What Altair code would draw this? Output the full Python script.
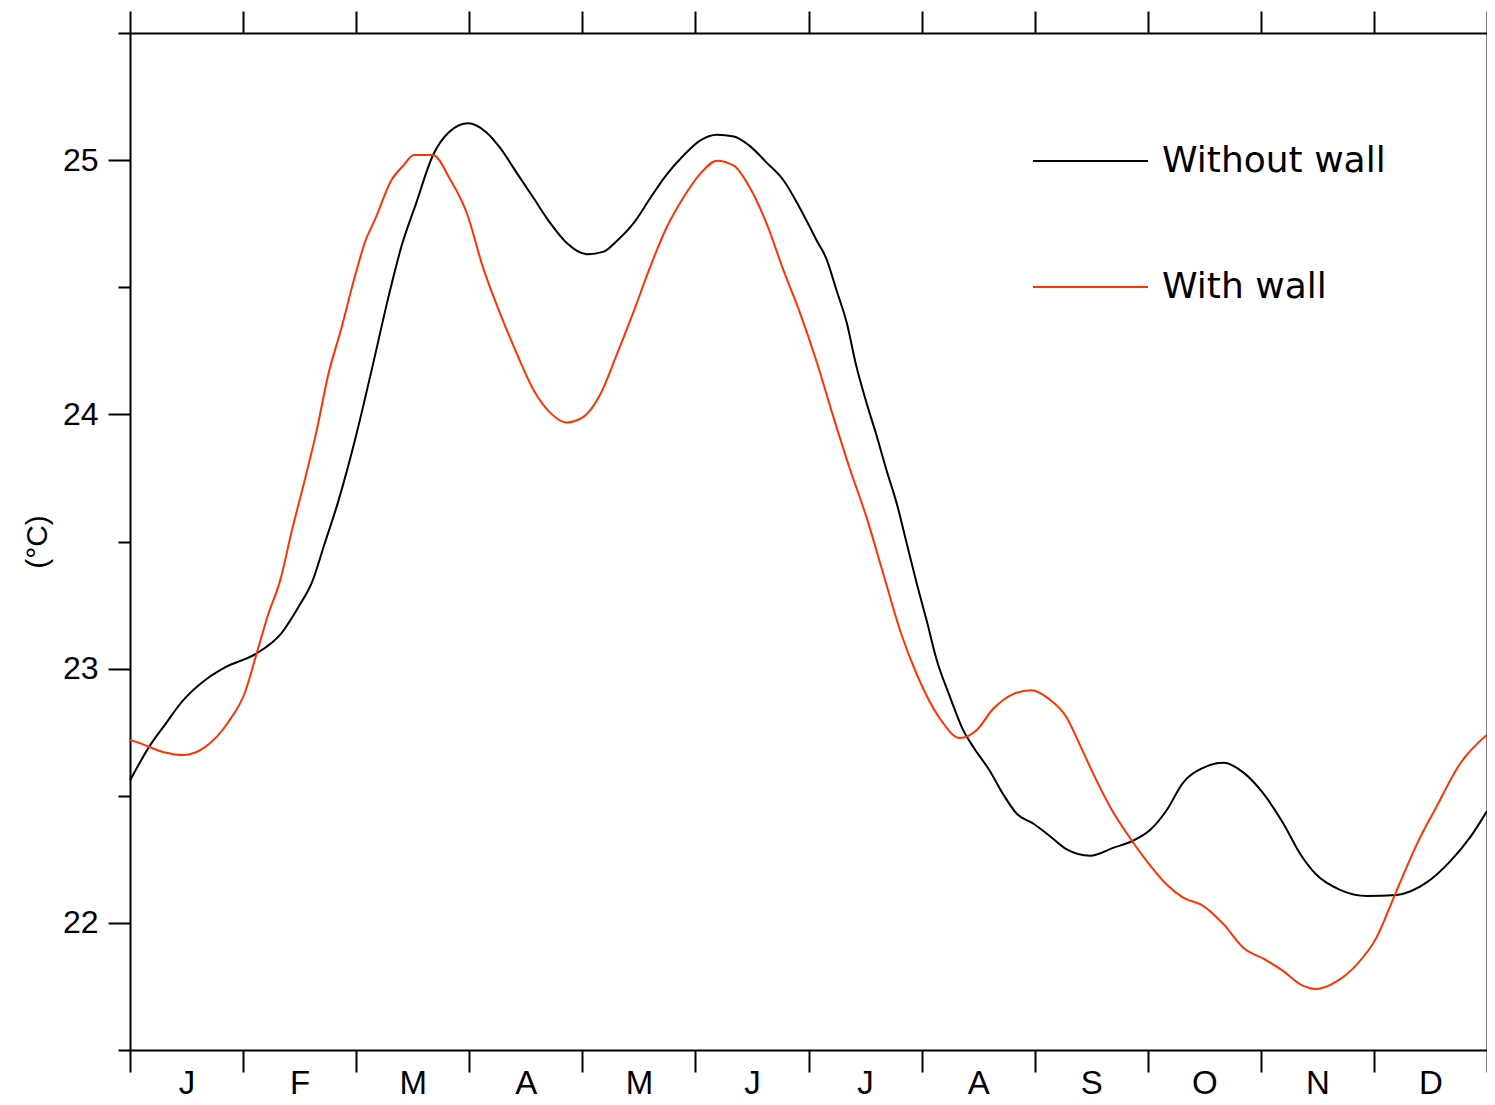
import altair as alt
import pandas as pd

# x is in months (0 = start of January, 12 = end of December)
months_without = [0.00, 0.18, 0.31, 0.46, 0.68, 0.84, 1.12, 1.34, 1.50, 1.61, 1.72, 1.84, 1.99,
                  2.14, 2.29, 2.40, 2.53, 2.68, 2.82, 2.99, 3.15, 3.27, 3.42, 3.57, 3.72, 3.86,
                  4.04, 4.19, 4.30, 4.45, 4.60, 4.74, 4.89, 5.04, 5.19, 5.34, 5.48, 5.63, 5.78,
                  5.92, 6.07, 6.16, 6.25, 6.34, 6.42, 6.51, 6.60, 6.69, 6.78, 6.87, 6.96, 7.05,
                  7.13, 7.25, 7.37, 7.46, 7.60, 7.72, 7.84, 7.99, 8.13, 8.28, 8.49, 8.70, 8.87,
                  9.02, 9.17, 9.31, 9.49, 9.67, 9.85, 10.02, 10.20, 10.35, 10.49, 10.70, 10.94,
                  11.20, 11.47, 11.67, 11.85, 12.00]
temp_without = [22.56, 22.70, 22.78, 22.87, 22.96, 23.005, 23.06, 23.14, 23.25, 23.34, 23.49, 23.655, 23.90,
                24.18, 24.47, 24.66, 24.83, 25.02, 25.11, 25.145, 25.11, 25.05, 24.95, 24.85, 24.75, 24.675,
                24.63, 24.64, 24.68, 24.75, 24.85, 24.94, 25.016, 25.077, 25.10, 25.093, 25.056, 24.99, 24.92,
                24.815, 24.686, 24.61, 24.485, 24.357, 24.195, 24.05, 23.92, 23.78, 23.65, 23.49, 23.33, 23.18,
                23.04, 22.89, 22.756, 22.69, 22.60, 22.507, 22.43, 22.39, 22.343, 22.29, 22.264, 22.296, 22.323,
                22.365, 22.445, 22.55, 22.61, 22.63, 22.59, 22.51, 22.39, 22.27, 22.19, 22.13, 22.106,
                22.11, 22.16, 22.24, 22.336, 22.44]

months_with = [0.00, 0.07, 0.31, 0.47, 0.66, 0.87, 1.02, 1.12, 1.22, 1.33, 1.43, 1.55, 1.65, 1.75,
               1.87, 1.99, 2.08, 2.17, 2.31, 2.42, 2.51, 2.68, 2.83, 2.98, 3.12, 3.27, 3.42, 3.57,
               3.72, 3.86, 4.01, 4.16, 4.30, 4.45, 4.60, 4.74, 4.89, 5.04, 5.19, 5.34, 5.48, 5.63,
               5.78, 5.92, 6.07, 6.22, 6.37, 6.51, 6.66, 6.81, 6.96, 7.16, 7.34, 7.49, 7.63, 7.81,
               7.97, 8.13, 8.28, 8.40, 8.52, 8.67, 8.84, 8.99, 9.17, 9.31, 9.49, 9.67, 9.85, 10.02,
               10.20, 10.35, 10.49, 10.67, 10.85, 11.02, 11.20, 11.38, 11.55, 11.76, 12.00]
temp_with = [22.72, 22.71, 22.67, 22.66, 22.69, 22.79, 22.91, 23.06, 23.21, 23.35, 23.54, 23.75, 23.935, 24.15,
             24.34, 24.545, 24.68, 24.77, 24.92, 24.98, 25.02, 25.02, 24.925, 24.79, 24.58, 24.40, 24.24, 24.095,
             24.005, 23.968, 23.99, 24.08, 24.23, 24.40, 24.58, 24.73, 24.85, 24.945, 24.998, 24.978, 24.893, 24.75,
             24.565, 24.405, 24.21, 23.99, 23.78, 23.60, 23.375, 23.15, 22.975, 22.805, 22.727, 22.76, 22.84, 22.90,
             22.915, 22.88, 22.81, 22.70, 22.585, 22.454, 22.336, 22.244, 22.15, 22.10, 22.067, 21.995, 21.90, 21.86,
             21.81, 21.758, 21.74, 21.77, 21.837, 21.94, 22.126, 22.31, 22.454, 22.625, 22.74]

series_names = ["Without wall", "With wall"]
series_colors = ["#000000", "#ff3300"]

month_letters = ["J", "F", "M", "A", "M", "J", "J", "A", "S", "O", "N", "D"]
month_edges = list(range(0, 13))
month_mids = [m + 0.5 for m in range(12)]

y_all = [21.5, 22, 22.5, 23, 23.5, 24, 24.5, 25, 25.5]

df = pd.concat([
    pd.DataFrame({"month": months_without, "temp": temp_without, "series": series_names[0]}),
    pd.DataFrame({"month": months_with, "temp": temp_with, "series": series_names[1]}),
])

letters_js = "[" + ",".join("'" + s + "'" for s in month_letters) + "]"
x_vals = sorted(month_edges + month_mids)

x_scale = alt.Scale(domain=[0, 12], nice=False, zero=False)
y_scale = alt.Scale(domain=[21.5, 25.5], nice=False, zero=False)

bottom_axis = alt.Axis(
    orient="bottom", values=x_vals, title=None, grid=False,
    labelExpr=f"datum.value % 1 ? {letters_js}[floor(datum.value)] : ''",
    labelFont="Liberation Sans", labelFontSize=33, labelColor="#000000",
    labelPadding=-5, labelBound=False, labelOverlap=False, labelFlush=False,
    tickSize=22, tickWidth=2, tickColor="#000000",
    tickOpacity={"condition": {"test": "datum.value % 1 !== 0", "value": 0}, "value": 1},
    domainColor="#000000", domainWidth=2,
)
top_axis = alt.Axis(
    orient="top", values=month_edges, title=None, grid=False, labels=False,
    tickSize=22, tickWidth=2, tickColor="#000000",
    domainColor="#000000", domainWidth=2,
)
left_axis = alt.Axis(
    orient="left", values=y_all, title="(°C)", grid=False,
    labelExpr="datum.value % 1 ? '' : toString(datum.value)",
    labelFont="Liberation Sans", labelFontSize=32, labelColor="#000000",
    labelPadding=10, labelOverlap=False, labelFlush=False,
    tickSize={"condition": {"test": "datum.value % 1 === 0", "value": 22}, "value": 12},
    tickWidth=2, tickColor="#000000",
    domainColor="#000000", domainWidth=2,
    titleFont="Liberation Sans", titleFontSize=30, titleFontWeight="normal",
    titleColor="#000000", titlePadding=10,
)
right_axis = alt.Axis(
    orient="right", values=y_all, title=None, grid=False, labels=False,
    tickSize={"condition": {"test": "datum.value % 1 === 0", "value": 22}, "value": 12},
    tickWidth=2, tickColor="#000000",
    domainColor="#000000", domainWidth=2,
)

legend = alt.Legend(
    title=None, orient="none", legendX=902, legendY=69.5, padding=0,
    symbolType="stroke", symbolSize=13225, symbolStrokeWidth=2,
    labelFont="DejaVu Sans", labelFontSize=36, labelColor="#000000",
    labelOffset=13, rowPadding=49, labelLimit=0, direction="vertical",
)

lines = alt.Chart(df).mark_line(strokeWidth=2, interpolate="monotone").encode(
    x=alt.X("month:Q", scale=x_scale, axis=bottom_axis),
    y=alt.Y("temp:Q", scale=y_scale, axis=left_axis),
    color=alt.Color("series:N",
                    scale=alt.Scale(domain=series_names, range=series_colors),
                    sort=series_names, legend=legend),
)

ghost = alt.Chart(df).mark_line(opacity=0).encode(
    x=alt.X("month:Q", scale=x_scale, axis=top_axis),
    y=alt.Y("temp:Q", scale=y_scale, axis=right_axis),
    detail="series:N",
)

chart = alt.layer(lines, ghost).resolve_axis(
    x="independent", y="independent"
).properties(
    width=1357, height=1017,
    autosize=alt.AutoSizeParams(type="none"),
    padding={"left": 122, "top": 25, "right": 0, "bottom": 47},
    background="#ffffff",
).configure_view(stroke=None)

chart.save("out.html", embed_options={"renderer": "svg", "actions": False})
